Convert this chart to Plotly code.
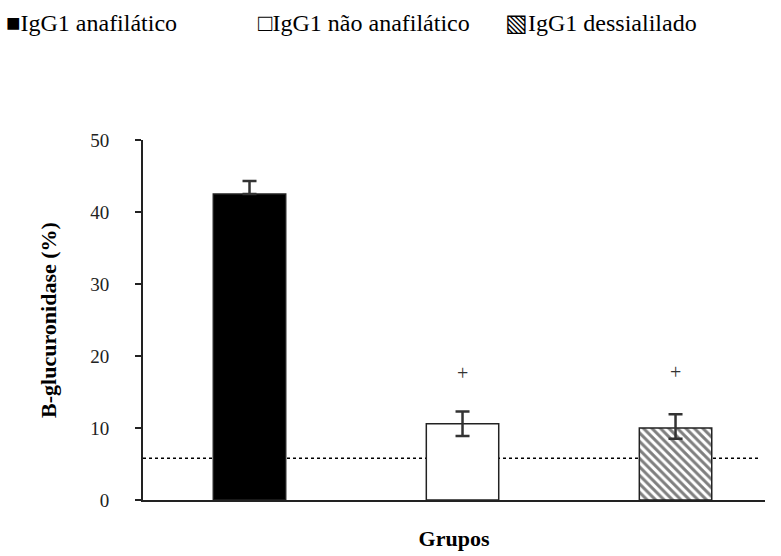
import plotly.graph_objects as go

groups = ["IgG1 anafilático", "IgG1 não anafilático", "IgG1 dessialilado"]
legend_symbols = ["■", "□", "▧"]
x_pos = [0, 1, 2]
values = [42.5, 10.6, 10.0]
errors_up = [1.8, 1.7, 1.9]
errors_down = [0.0, 1.7, 1.5]
sig_marks = ["", "+", "+"]
sig_y = [None, 17.6, 17.8]
baseline = 5.8

fills = ["black", "white", "white"]
patterns = ["", "", "\\"]

W, H = 781, 556
L, R, T, B = 143, 16, 140, 56
PW, PH = W - L - R, H - T - B

fig = go.Figure()
for i in range(3):
    fig.add_trace(go.Bar(
        x=[x_pos[i]], y=[values[i]], name=groups[i], width=0.34, showlegend=False,
        marker=dict(color=fills[i], line=dict(color="#222", width=1.5),
                    pattern=dict(shape=patterns[i], fgcolor="black", bgcolor="white",
                                 size=6, solidity=0.5)),
        error_y=dict(type="data", symmetric=False, array=[errors_up[i]],
                     arrayminus=[errors_down[i]], color="#333", thickness=2.5, width=7),
    ))

for i in range(3):
    if sig_marks[i]:
        fig.add_annotation(x=x_pos[i], y=sig_y[i], text=sig_marks[i], showarrow=False,
                           font=dict(family="Liberation Serif", size=20, color="#333"))

# legend row as text
legend_px = [4, 256, 503]
for i in range(3):
    fig.add_annotation(xref="paper", yref="paper",
                       x=(legend_px[i] - L) / PW, y=(H - B - 23) / PH,
                       xanchor="left", yanchor="middle", showarrow=False,
                       text=legend_symbols[i] + groups[i],
                       font=dict(family="Liberation Serif", size=24, color="black"))

fig.add_shape(type="line", xref="paper", yref="y", x0=0, x1=0.99, y0=baseline, y1=baseline,
              line=dict(color="black", width=1.5, dash="dot"), layer="below")

fig.update_layout(
    width=W, height=H,
    margin=dict(l=L, r=R, t=T, b=B),
    plot_bgcolor="white", paper_bgcolor="white",
    font=dict(family="Liberation Serif, serif", color="black"),
    showlegend=False,
    xaxis=dict(range=[-0.5, 2.42], showticklabels=False, ticks="", showgrid=False,
               showline=True, linecolor="#222", linewidth=2, zeroline=False,
               title=dict(text="<b>Grupos</b>", font=dict(size=22, family="Liberation Serif"),
                          standoff=30)),
    yaxis=dict(range=[0, 50], tickvals=[0, 10, 20, 30, 40, 50], showgrid=False,
               showline=True, linecolor="#222", linewidth=2, ticks="outside", ticklen=6,
               tickwidth=2, tickcolor="#222", zeroline=False, ticklabelstandoff=22,
               tickfont=dict(size=19, family="Liberation Serif", color="#222"),
               title=dict(text="<b>B-glucuronidase (%)</b>", font=dict(size=22, family="Liberation Serif"),
                          standoff=28)),
)

fig.write_html("out.html")
